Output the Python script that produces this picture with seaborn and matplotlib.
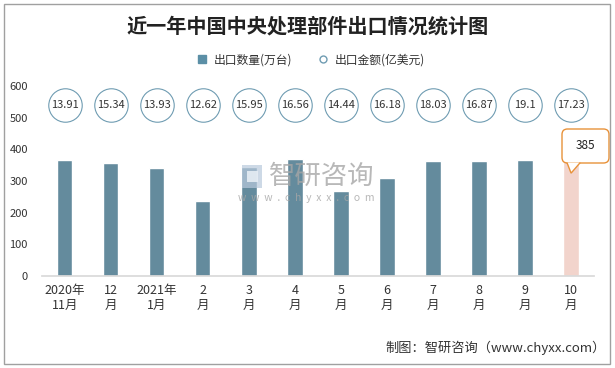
import pandas as pd
import matplotlib.pyplot as plt
import seaborn as sns
from matplotlib.patches import FancyBboxPatch, Polygon, Rectangle
from matplotlib.lines import Line2D

# 数据
months = ['2020年\n11月', '12\n月', '2021年\n1月', '2\n月', '3\n月', '4\n月',
          '5\n月', '6\n月', '7\n月', '8\n月', '9\n月', '10\n月']
quantity = [366, 357, 341, 237, 344, 369, 268, 309, 363, 363, 366, 385]
amount = [13.91, 15.34, 13.93, 12.62, 15.95, 16.56, 14.44, 16.18, 18.03, 16.87, 19.1, 17.23]
circle_level = 540

sns.set_theme(style='white')
plt.rcParams['font.family'] = ['Noto Sans CJK SC', 'DejaVu Sans']

df = pd.DataFrame({'month': months, 'quantity': quantity})
bar_color = '#5b8fa6'
last_color = '#f8d0c6'
palette = [bar_color] * (len(months) - 1) + [last_color]

fig = plt.figure(figsize=(6.15, 3.68), dpi=100)
ax = fig.add_axes([0.068, 0.25, 0.898, 0.516])

sns.barplot(data=df, x='month', y='quantity', hue='month', palette=palette,
            legend=False, width=0.33, ax=ax)

# 出口金额圆圈
xs = range(len(months))
ax.scatter(xs, [circle_level] * len(months), s=580, facecolor='white',
           edgecolor='#6f9cb2', linewidth=0.8, zorder=3, clip_on=False)
for i, v in enumerate(amount):
    ax.text(i, circle_level, f'{v:g}', ha='center', va='center', fontsize=8,
            color='#333333', zorder=4)

ax.set_ylim(0, 600)
ax.set_xlim(-0.5, len(months) - 0.5)
ax.set_yticks(range(0, 601, 100))
ax.set_xlabel('')
ax.set_ylabel('')
ax.tick_params(axis='y', labelsize=8, length=0, pad=10, colors='#333333')
ax.tick_params(axis='x', labelsize=9, length=0, pad=6, colors='#333333')
for s in ['top', 'right', 'left']:
    ax.spines[s].set_visible(False)
ax.spines['bottom'].set_color('#d9d9d9')

# 最后一个月的标注框
last = len(months) - 1
inv = ax.transData.inverted()
bx0, by0 = inv.transform(fig.dpi_scale_trans.transform((5.62, 3.68 - 1.63)))
bx1, by1 = inv.transform(fig.dpi_scale_trans.transform((6.09, 3.68 - 1.29)))
box = FancyBboxPatch((bx0, by0), bx1 - bx0, by1 - by0,
                     boxstyle='round,pad=0,rounding_size=0.12',
                     facecolor='white', edgecolor='#e8923a', linewidth=1,
                     zorder=5, clip_on=False, mutation_aspect=145)
ax.add_patch(box)
ptr = Polygon([(last - 0.09, by0 + 1.5), (last, quantity[last] - 60),
               (last + 0.2, by0 + 1.5)], closed=False,
              facecolor='white', edgecolor='#e8923a', linewidth=1, zorder=6, clip_on=False)
ax.add_patch(ptr)
ax.text((bx0 + bx1) / 2, (by0 + by1) / 2, str(quantity[last]), ha='center', va='center',
        fontsize=8.5, color='#222222', zorder=7)

# 水印
fig.patches.append(Rectangle((0.394, 0.49), 0.032, 0.062, transform=fig.transFigure,
                             facecolor='#b9c9dc', edgecolor='none', alpha=0.7))
fig.patches.append(Rectangle((0.402, 0.505), 0.018, 0.03, transform=fig.transFigure,
                             facecolor='#e6edf4', edgecolor='none', alpha=0.9))
fig.text(0.437, 0.522, '智研咨询', fontsize=19, color='#a6a6a6', alpha=0.8,
         ha='left', va='center')
fig.text(0.387, 0.463, 'w  w  w  .  c  h  y  x  x  .  c  o  m', fontsize=7.5,
         color='#a6a6a6', alpha=0.8, ha='left', va='center')

# 标题和图例
fig.text(0.5, 0.93, '近一年中国中央处理部件出口情况统计图', ha='center', va='center',
         fontsize=14.5, fontweight='bold', color='#222222')
handles = [Line2D([], [], marker='s', linestyle='none', markersize=6,
                  markerfacecolor=bar_color, markeredgecolor=bar_color),
           Line2D([], [], marker='o', linestyle='none', markersize=5,
                  markerfacecolor='white', markeredgecolor='#6f9cb2')]
fig.legend(handles, ['出口数量(万台)', '出口金额(亿美元)'], loc='center',
           bbox_to_anchor=(0.5, 0.837), ncol=2, frameon=False, fontsize=8.5,
           handletextpad=0.0, columnspacing=1.6, labelcolor='#333333')

fig.text(0.985, 0.054, '制图：智研咨询（www.chyxx.com）', ha='right', va='center',
         fontsize=9.5, color='#333333')

fig.patches.append(Rectangle((0.007, 0.011), 0.985, 0.978, transform=fig.transFigure,
                             fill=False, edgecolor='#a0a0a0', linewidth=1))

fig.savefig('out.png', dpi=100)
